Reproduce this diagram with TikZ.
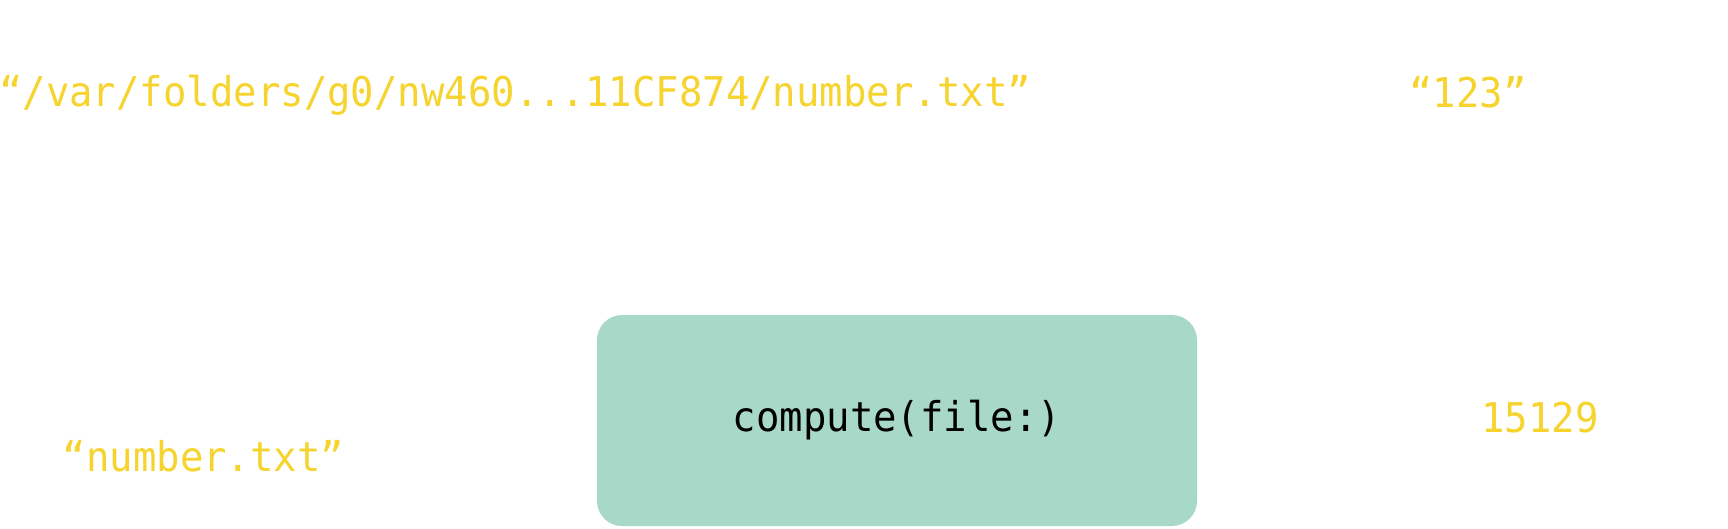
\documentclass[tikz,border=0pt]{standalone}
\usepackage{fontspec}
\newfontfamily\codefont[FakeStretch=0.95]{DejaVu Sans Mono}
\definecolor{valyellow}{HTML}{F6D32D}
\definecolor{fnfill}{HTML}{A8D8C8}
\tikzset{
  value/.style={inner sep=0pt, anchor=base, text=valyellow, font=\codefont\fontsize{41}{41}\selectfont},
  fnbox/.style={fill=fnfill, draw=none, rounded corners=25pt, minimum width=600pt, minimum height=211pt, inner sep=0pt, text=black, font=\codefont\fontsize{41}{41}\selectfont}
}
\begin{document}
\begin{tikzpicture}[x=1pt,y=1pt]
\useasboundingbox (0,0) rectangle (1728,528);
\node[value, anchor=base west] (path) at (-1,421) {“/var/folders/g0/nw460...11CF874/number.txt”};
\node[value] (contents) at (1468,420) {“123”};
\node[value] (name) at (203.5,57) {“number.txt”};
\node[value] (result) at (1540,96) {15129};
\node[fnbox] (fn) at (897,107.5) {compute(file:)};
\end{tikzpicture}
\end{document}
